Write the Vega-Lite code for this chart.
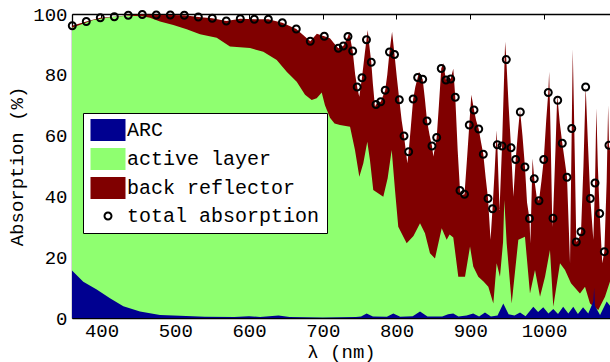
{
  "$schema": "https://vega.github.io/schema/vega-lite/v6.json",
  "width": 538,
  "height": 304,
  "autosize": {"type": "none"},
  "padding": {"left": 72, "top": 14, "right": 0, "bottom": 44},
  "background": "white",
  "config": {
    "view": {"stroke": null},
    "axis": {
      "labelFont": "Liberation Mono", "labelFontSize": 19, "labelColor": "black",
      "titleFont": "Liberation Mono", "titleFontSize": 19, "titleFontWeight": "normal", "titleColor": "black",
      "domainColor": "black", "domainWidth": 1.3, "tickColor": "black", "tickWidth": 1,
      "grid": false, "tickSize": -5, "labelPadding": 10
    }
  },
  "datasets": {
    "total": [
      {"wl":360,"v":96.1},{"wl":379.4,"v":97.5},{"wl":398.4,"v":98.8},{"wl":417.4,"v":99.1},{"wl":436.3,"v":99.6},{"wl":455.3,"v":99.8},{"wl":474.3,"v":99.7},{"wl":493.3,"v":99.7},{"wl":512.3,"v":99.6},{"wl":531.3,"v":99.0},{"wl":550.2,"v":98.6},{"wl":569.2,"v":97.7},{"wl":588.2,"v":98.4},{"wl":607.2,"v":98.3},{"wl":626.2,"v":98.3},{"wl":645.2,"v":97.1},{"wl":664.1,"v":95.1},{"wl":683.1,"v":91.0},{"wl":692,"v":93.5},{"wl":702.1,"v":92.7},{"wl":709.8,"v":92.0},{"wl":715,"v":90.5},{"wl":721.1,"v":88.7},{"wl":727.9,"v":89.5},{"wl":734.2,"v":92.6},{"wl":736,"v":94.2},{"wl":738.5,"v":90.5},{"wl":740.6,"v":87.8},{"wl":744,"v":80},{"wl":746.7,"v":76.0},{"wl":749.5,"v":72.8},{"wl":753.2,"v":79.0},{"wl":757,"v":87},{"wl":759.3,"v":91.5},{"wl":761,"v":94.7},{"wl":763,"v":90},{"wl":765.8,"v":84.1},{"wl":768,"v":77},{"wl":770.8,"v":69.5},{"wl":772.2,"v":70.2},{"wl":778.6,"v":71.1},{"wl":784.7,"v":74.9},{"wl":787.5,"v":80},{"wl":790.5,"v":87.5},{"wl":794,"v":94.2},{"wl":797.3,"v":86.7},{"wl":800.5,"v":79},{"wl":803.8,"v":71.8},{"wl":807,"v":65},{"wl":810.2,"v":59.9},{"wl":814.7,"v":50.9},{"wl":816.5,"v":54.7},{"wl":819.5,"v":63},{"wl":822.6,"v":72.0},{"wl":825.5,"v":76},{"wl":828.7,"v":79.1},{"wl":830.5,"v":81},{"wl":835.5,"v":78.5},{"wl":838.5,"v":72},{"wl":841.4,"v":64.8},{"wl":845,"v":60},{"wl":848.1,"v":56.6},{"wl":850,"v":53.1},{"wl":854.5,"v":59.4},{"wl":857.5,"v":70},{"wl":860.7,"v":82.1},{"wl":863.4,"v":83.8},{"wl":867.1,"v":78.3},{"wl":870,"v":79},{"wl":873.5,"v":78.6},{"wl":877,"v":82},{"wl":879.7,"v":72.6},{"wl":883,"v":55},{"wl":886.1,"v":41.9},{"wl":888.4,"v":40.5},{"wl":892.2,"v":40.7},{"wl":895.5,"v":52},{"wl":898.7,"v":63.5},{"wl":901.5,"v":73.4},{"wl":905.1,"v":68.4},{"wl":908,"v":65},{"wl":911.5,"v":62.2},{"wl":914.5,"v":58},{"wl":917.7,"v":53.9},{"wl":921,"v":46},{"wl":924.1,"v":39.3},{"wl":927.5,"v":25.7},{"wl":930.2,"v":35.9},{"wl":933,"v":48},{"wl":935.8,"v":61.8},{"wl":936.7,"v":57.0},{"wl":939.7,"v":35.5},{"wl":943.1,"v":56.6},{"wl":946,"v":80},{"wl":947.3,"v":90.9},{"wl":948.9,"v":85.0},{"wl":952,"v":70},{"wl":955.3,"v":56.0},{"wl":958.5,"v":39.9},{"wl":961.6,"v":52.1},{"wl":965,"v":62},{"wl":967.5,"v":68.4},{"wl":970.8,"v":60},{"wl":974.2,"v":49.7},{"wl":977,"v":38},{"wl":980.3,"v":32.7},{"wl":981.5,"v":24.6},{"wl":984.5,"v":52.5},{"wl":986.8,"v":45.8},{"wl":990,"v":40},{"wl":993.2,"v":38.6},{"wl":996.5,"v":45},{"wl":999.7,"v":52.1},{"wl":1003,"v":65},{"wl":1005.8,"v":74.2},{"wl":1007,"v":81},{"wl":1009,"v":60},{"wl":1011.3,"v":30.0},{"wl":1012.2,"v":32.8},{"wl":1015.5,"v":55},{"wl":1018,"v":73.4},{"wl":1018.6,"v":71.6},{"wl":1021.5,"v":64},{"wl":1024.8,"v":57.5},{"wl":1028,"v":52},{"wl":1031.2,"v":46.3},{"wl":1035.3,"v":18.0},{"wl":1037.6,"v":62.3},{"wl":1039,"v":88.4},{"wl":1040.5,"v":70},{"wl":1043.8,"v":25.0},{"wl":1047,"v":26},{"wl":1050.2,"v":28.4},{"wl":1053.5,"v":50},{"wl":1056.5,"v":76.1},{"wl":1059.5,"v":58},{"wl":1062.8,"v":39.3},{"wl":1066.9,"v":25.7},{"wl":1069.2,"v":44.4},{"wl":1071,"v":69.0},{"wl":1073,"v":50},{"wl":1075.5,"v":34.4},{"wl":1079,"v":18.0},{"wl":1081.8,"v":21.8},{"wl":1085,"v":45},{"wl":1087,"v":70},{"wl":1088.1,"v":56.8},{"wl":1089.5,"v":55}
    ],
    "active": [
      {"wl":360,"v":95.5},{"wl":388.9,"v":98.0},{"wl":416,"v":99.1},{"wl":436.3,"v":99.4},{"wl":455.3,"v":99.3},{"wl":465.8,"v":98.8},{"wl":479.3,"v":97.5},{"wl":497.4,"v":96.4},{"wl":515.5,"v":95.0},{"wl":533.6,"v":93.3},{"wl":556.2,"v":92.2},{"wl":574.2,"v":89.3},{"wl":601.4,"v":88.8},{"wl":619.4,"v":87.6},{"wl":637.6,"v":84.9},{"wl":651.1,"v":81.0},{"wl":664.7,"v":77.7},{"wl":676,"v":73.4},{"wl":685,"v":71.7},{"wl":691.8,"v":72.3},{"wl":698.6,"v":74.2},{"wl":703,"v":70},{"wl":709.8,"v":65.9},{"wl":716,"v":64},{"wl":723.4,"v":63.5},{"wl":737,"v":62.9},{"wl":743.7,"v":55.3},{"wl":749.6,"v":46.5},{"wl":755,"v":50.9},{"wl":760.4,"v":58.0},{"wl":764,"v":52},{"wl":768.5,"v":42.1},{"wl":782.1,"v":39.9},{"wl":788,"v":46},{"wl":793.5,"v":55.3},{"wl":798,"v":42},{"wl":802.4,"v":30.0},{"wl":813.8,"v":24.6},{"wl":823,"v":27},{"wl":831.9,"v":31.2},{"wl":838.6,"v":27.9},{"wl":845.4,"v":21.3},{"wl":852.2,"v":19.6},{"wl":861.3,"v":29.5},{"wl":868,"v":25.7},{"wl":872,"v":27.5},{"wl":877,"v":26.5},{"wl":883.8,"v":13.6},{"wl":892.9,"v":13.6},{"wl":899.7,"v":23.5},{"wl":904.1,"v":16.9},{"wl":910.9,"v":13.6},{"wl":918,"v":12},{"wl":924.5,"v":10.3},{"wl":931.3,"v":4.8},{"wl":935.8,"v":18.0},{"wl":940.3,"v":13.6},{"wl":944.5,"v":25},{"wl":946.2,"v":38.8},{"wl":949.4,"v":24.6},{"wl":956.2,"v":4.8},{"wl":965.2,"v":25.7},{"wl":974.2,"v":26.7},{"wl":981,"v":8.1},{"wl":987.8,"v":15.8},{"wl":994.6,"v":7.0},{"wl":1001.4,"v":13.6},{"wl":1008.1,"v":22.4},{"wl":1012.6,"v":3.7},{"wl":1021.7,"v":18.0},{"wl":1028.5,"v":15.8},{"wl":1036.6,"v":11.4},{"wl":1048.8,"v":8.1},{"wl":1055.6,"v":10.3},{"wl":1062.4,"v":4.8},{"wl":1073.6,"v":2.6},{"wl":1082.7,"v":7.0},{"wl":1089.5,"v":12}
    ],
    "arc": [
      {"wl":360,"v":15.6},{"wl":375.3,"v":11.9},{"wl":393.5,"v":9.4},{"wl":411.5,"v":6.5},{"wl":429.6,"v":3.9},{"wl":452.2,"v":2.1},{"wl":479.3,"v":1.0},{"wl":506.4,"v":0.7},{"wl":540,"v":0.4},{"wl":580,"v":0.3},{"wl":600,"v":0.6},{"wl":615,"v":0.3},{"wl":640,"v":0.8},{"wl":655,"v":0.3},{"wl":700,"v":0.2},{"wl":745,"v":0.3},{"wl":752,"v":0.5},{"wl":759.5,"v":1.5},{"wl":768,"v":0.5},{"wl":787,"v":0.4},{"wl":795.7,"v":1.5},{"wl":805,"v":0.4},{"wl":822,"v":0.6},{"wl":831.9,"v":2.1},{"wl":842,"v":0.5},{"wl":862,"v":0.5},{"wl":870,"v":1.2},{"wl":877,"v":1.5},{"wl":884,"v":0.5},{"wl":895,"v":0.8},{"wl":904,"v":1.5},{"wl":912,"v":0.5},{"wl":920,"v":1.8},{"wl":928,"v":0.5},{"wl":937,"v":0.8},{"wl":944.8,"v":4.8},{"wl":952,"v":1.2},{"wl":960,"v":0.8},{"wl":967.5,"v":1.8},{"wl":975,"v":0.6},{"wl":985.5,"v":3.7},{"wl":992,"v":2.0},{"wl":999,"v":3.5},{"wl":1006,"v":1.5},{"wl":1012.6,"v":3.0},{"wl":1019,"v":1.3},{"wl":1026,"v":3.7},{"wl":1033,"v":1.5},{"wl":1039.7,"v":3.7},{"wl":1046,"v":1.3},{"wl":1053,"v":3.5},{"wl":1060,"v":1.5},{"wl":1066.9,"v":5.4},{"wl":1068,"v":10},{"wl":1069,"v":4},{"wl":1076,"v":1.0},{"wl":1085,"v":5.4},{"wl":1089.5,"v":4}
    ],
    "points": [
      {"wl":360.4,"v":96.1},{"wl":379.4,"v":97.5},{"wl":398.4,"v":98.8},{"wl":417.4,"v":99.1},{"wl":436.3,"v":99.6},{"wl":455.3,"v":99.8},{"wl":474.3,"v":99.7},{"wl":493.3,"v":99.7},{"wl":512.3,"v":99.6},{"wl":531.3,"v":99.0},{"wl":550.2,"v":98.6},{"wl":569.2,"v":97.7},{"wl":588.2,"v":98.4},{"wl":607.2,"v":98.3},{"wl":626.2,"v":98.3},{"wl":645.2,"v":97.1},{"wl":664.1,"v":95.1},{"wl":683.1,"v":91.0},{"wl":702.1,"v":92.7},{"wl":721.1,"v":88.7},{"wl":727.9,"v":89.5},{"wl":734.2,"v":92.6},{"wl":740.6,"v":87.8},{"wl":746.7,"v":76.0},{"wl":753.2,"v":79.0},{"wl":759.3,"v":91.5},{"wl":765.8,"v":84.1},{"wl":772.2,"v":70.2},{"wl":778.6,"v":71.1},{"wl":784.7,"v":74.9},{"wl":790.5,"v":87.5},{"wl":797.3,"v":86.7},{"wl":803.8,"v":71.8},{"wl":810.2,"v":59.9},{"wl":816.5,"v":54.7},{"wl":822.6,"v":72.0},{"wl":828.7,"v":79.1},{"wl":835.5,"v":78.5},{"wl":841.4,"v":64.8},{"wl":848.1,"v":56.6},{"wl":854.5,"v":59.4},{"wl":860.7,"v":82.1},{"wl":867.1,"v":78.3},{"wl":873.5,"v":78.6},{"wl":879.7,"v":72.6},{"wl":886.1,"v":41.9},{"wl":892.2,"v":40.7},{"wl":898.7,"v":63.5},{"wl":905.1,"v":68.4},{"wl":911.5,"v":62.2},{"wl":917.7,"v":53.9},{"wl":924.1,"v":39.3},{"wl":930.2,"v":35.9},{"wl":936.7,"v":57.0},{"wl":943.1,"v":56.6},{"wl":948.9,"v":85.0},{"wl":955.3,"v":56.0},{"wl":961.6,"v":52.1},{"wl":967.9,"v":67.8},{"wl":974.2,"v":49.7},{"wl":980.3,"v":32.7},{"wl":986.8,"v":45.8},{"wl":993.2,"v":38.6},{"wl":999.7,"v":52.1},{"wl":1005.8,"v":74.2},{"wl":1012.2,"v":32.8},{"wl":1018.6,"v":71.6},{"wl":1024.8,"v":57.5},{"wl":1031.2,"v":46.3},{"wl":1037.6,"v":62.3},{"wl":1043.8,"v":25.0},{"wl":1050.2,"v":28.4},{"wl":1056.5,"v":76.0},{"wl":1062.8,"v":39.3},{"wl":1069.2,"v":44.4},{"wl":1075.5,"v":34.4},{"wl":1081.8,"v":21.8},{"wl":1088.1,"v":56.8}
    ]
  },
  "layer": [
    {
      "data": {"name": "total"},
      "mark": {"type": "area", "opacity": 1},
      "encoding": {
        "x": {"field": "wl", "type": "quantitative", "scale": {"domain": [360, 1089.5], "nice": false, "zero": false},
              "axis": {"orient": "bottom", "values": [400,500,600,700,800,900,1000], "format": "d", "labelPadding": 8, "title": "λ (nm)", "titleY": 39, "titleBaseline": "alphabetic"}},
        "y": {"field": "v", "type": "quantitative", "stack": null, "scale": {"domain": [0, 100], "nice": false},
              "axis": {"values": [0,20,40,60,80,100], "title": "Absorption (%)", "titlePadding": 6}},
        "color": {"datum": "back reflector", "type": "nominal",
          "scale": {"domain": ["ARC", "active layer", "back reflector", "total absorption"], "range": ["#000090", "#8FFF70", "#800000", "black"]},
          "legend": {"orient": "none", "legendX": 11, "legendY": 99, "title": null, "padding": 7,
            "strokeColor": "black", "fillColor": "white", "labelFont": "Liberation Mono", "labelFontSize": 20, "labelColor": "black",
            "symbolSize": 100, "symbolOffset": 8, "labelOffset": 9, "rowPadding": 7, "symbolStrokeWidth": 0, "symbolOpacity": 1, "labelLimit": 400}}
      }
    },
    {
      "data": {"name": "active"},
      "mark": {"type": "area", "opacity": 1},
      "encoding": {
        "x": {"field": "wl", "type": "quantitative", "axis": {"orient": "top", "values": [400,500,600,700,800,900,1000], "labels": false, "title": null}},
        "y": {"field": "v", "type": "quantitative", "stack": null},
        "color": {"datum": "active layer", "type": "nominal"}
      }
    },
    {
      "data": {"name": "arc"},
      "mark": {"type": "area", "opacity": 1},
      "encoding": {
        "x": {"field": "wl", "type": "quantitative", "axis": null},
        "y": {"field": "v", "type": "quantitative", "stack": null},
        "color": {"datum": "ARC", "type": "nominal"}
      }
    },
    {
      "data": {"name": "points"},
      "mark": {"type": "point", "filled": true, "opacity": 1, "size": 100, "strokeWidth": 0},
      "encoding": {
        "x": {"field": "wl", "type": "quantitative", "axis": null},
        "y": {"field": "v", "type": "quantitative"},
        "color": {"datum": "total absorption", "type": "nominal"},
        "shape": {"datum": "total absorption", "type": "nominal",
          "scale": {"domain": ["ARC", "active layer", "back reflector", "total absorption"],
                    "range": ["M-3.5,-2.2H3.5V2.2H-3.5Z", "M-3.5,-2.2H3.5V2.2H-3.5Z", "M-3.5,-2.2H3.5V2.2H-3.5Z",
                              "M0.9,0A0.9,0.9,0,1,0,-0.9,0A0.9,0.9,0,1,0,0.9,0ZM0.5,0A0.5,0.5,0,1,1,-0.5,0A0.5,0.5,0,1,1,0.5,0Z"]},
          "legend": {"orient": "none", "legendX": 11, "legendY": 99, "title": null}}
      }
    }
  ],
  "resolve": {"axis": {"x": "independent"}}
}
